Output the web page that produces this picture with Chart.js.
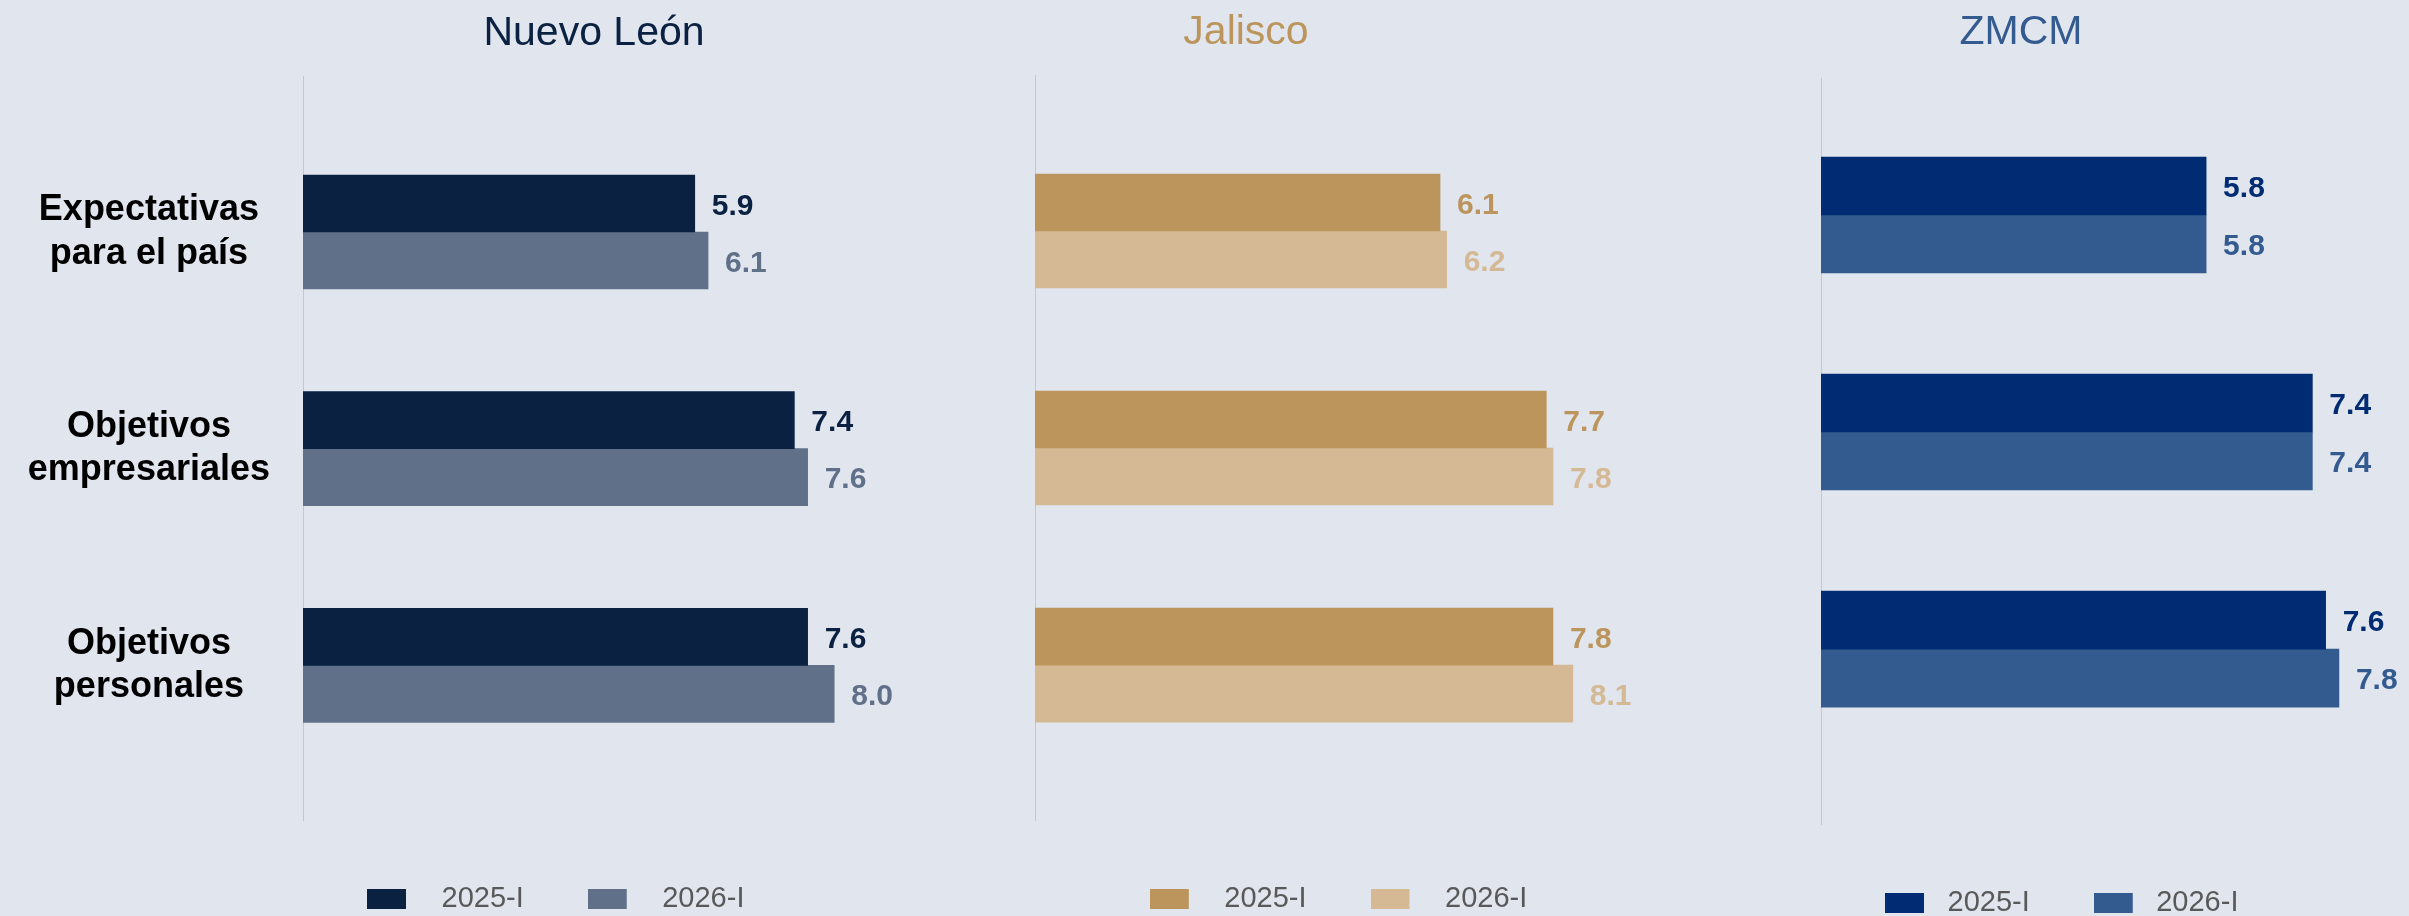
<!DOCTYPE html>
<html>
<head>
<meta charset="utf-8">
<script src="https://cdn.jsdelivr.net/npm/chart.js@4.4.1/dist/chart.umd.min.js"></script>
<style>
html,body{margin:0;padding:0;background:#e0e5ee;overflow:hidden;}
body{width:2409px;height:916px;position:relative;}
canvas{position:absolute;top:0;}
</style>
</head>
<body>
<canvas id="nl_chart" width="1188" height="923" style="left:0px"></canvas>
<canvas id="jal_chart" width="792" height="923" style="left:850px"></canvas>
<canvas id="zmcm_chart" width="776" height="927" style="left:1633px"></canvas>
<script>
// datos
const categorias = [['Expectativas', 'para el país'], ['Objetivos', 'empresariales'], ['Objetivos', 'personales']];
const periodos = ['2025-I', '2026-I'];
const regiones = ['Nuevo León', 'Jalisco', 'ZMCM'];
const nl2025 = [5.9, 7.4, 7.6];
const nl2026 = [6.1, 7.6, 8.0];
const jal2025 = [6.1, 7.7, 7.8];
const jal2026 = [6.2, 7.8, 8.1];
const zmcm2025 = [5.8, 7.4, 7.6];
const zmcm2026 = [5.8, 7.4, 7.8];

const fuente = '"Liberation Sans", Arial, sans-serif';
Chart.defaults.font.family = fuente;
const pxPorUnidad = 66.4;

// valores al final de cada barra
const etiquetas = {
    id: 'etiquetas',
    afterDatasetsDraw(chart) {
        let ctx = chart.ctx;
        ctx.save();
        ctx.font = 'bold 30px ' + fuente;
        ctx.textBaseline = 'middle';
        ctx.textAlign = 'left';
        chart.data.datasets.forEach((ds, i) => {
            chart.getDatasetMeta(i).data.forEach((bar, j) => {
                ctx.fillStyle = ds.backgroundColor;
                ctx.fillText(ds.data[j].x.toFixed(1), bar.x + 17, bar.y + 3);
            });
        });
        ctx.restore();
    }
};

// cuadro de la leyenda con espacio a la derecha
function marcador(color, ancho) {
    let c = document.createElement('canvas');
    c.width = ancho;
    c.height = 20;
    let g = c.getContext('2d');
    g.fillStyle = color;
    g.fillRect(0, 0, 39, 20);
    return c;
}

function panel(id, p) {
    let canvas = document.getElementById(id);
    return new Chart(canvas, {
        type: 'bar',
        plugins: [etiquetas],
        data: {
            datasets: [{
                label: periodos[0],
                data: p.v2025.map((v, i) => ({x: v, y: i})),
                backgroundColor: p.colores[0],
                pointStyle: marcador(p.colores[0], p.marca),
                barThickness: p.grosor
            }, {
                label: periodos[1],
                data: p.v2026.map((v, i) => ({x: v, y: i})),
                backgroundColor: p.colores[1],
                pointStyle: marcador(p.colores[1], p.marca),
                barThickness: p.grosor
            }]
        },
        options: {
            indexAxis: 'y',
            responsive: false,
            animation: false,
            layout: {padding: 0},
            scales: {
                x: {
                    type: 'linear', display: false, min: 0,
                    max: (canvas.width - p.eje) / pxPorUnidad
                },
                y: {
                    type: 'linear', reverse: true, offset: false, min: p.yMin, max: p.yMax,
                    afterBuildTicks: s => { s.ticks = categorias.map((c, i) => ({value: i})); },
                    afterFit: s => { s.width = p.eje; },
                    grid: {display: false, drawTicks: false, offset: false},
                    border: {display: true, color: '#c3c7cf', width: 1},
                    ticks: {
                        display: p.etiquetasEje, crossAlign: 'center', padding: 33, color: '#000',
                        font: {size: 36, weight: 'bold', lineHeight: 1.2},
                        callback: v => categorias[v]
                    }
                }
            },
            plugins: {
                tooltip: {enabled: false},
                title: {
                    display: true, text: p.titulo, color: p.colorTitulo,
                    font: {size: 41, weight: 'normal'},
                    padding: {top: 8, bottom: p.tituloAbajo}
                },
                legend: {
                    position: 'bottom', align: p.alinear, fullSize: false,
                    labels: {
                        usePointStyle: true, pointStyleWidth: p.marca, boxHeight: 20,
                        padding: 64, color: '#595959', font: {size: 29}
                    }
                }
            }
        }
    });
}

panel('nl_chart', {
    titulo: regiones[0], colorTitulo: '#0a2142', v2025: nl2025, v2026: nl2026,
    colores: ['#0a2142', '#607088'], eje: 303, yMin: -0.719, yMax: 2.714,
    grosor: 57, tituloAbajo: 17.8, etiquetasEje: true, marca: 60, alinear: 'start'
});
panel('jal_chart', {
    titulo: regiones[1], colorTitulo: '#bc955c', v2025: jal2025, v2026: jal2026,
    colores: ['#bc955c', '#d4b994'], eje: 185, yMin: -0.719, yMax: 2.714,
    grosor: 57, tituloAbajo: 17.8, etiquetasEje: false, marca: 60, alinear: 'center'
});
panel('zmcm_chart', {
    titulo: regiones[2], colorTitulo: '#335b8f', v2025: zmcm2025, v2026: zmcm2026,
    colores: ['#012b72', '#335b8f'], eje: 188, yMin: -0.631, yMax: 2.806,
    grosor: 58, tituloAbajo: 20.8, etiquetasEje: false, marca: 48, alinear: 'start'
});
</script>
</body>
</html>
